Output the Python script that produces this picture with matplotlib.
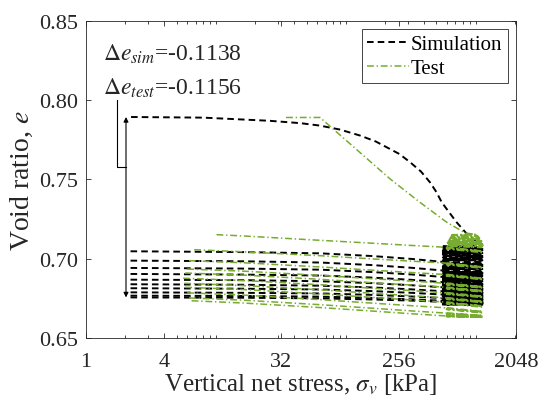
import matplotlib
matplotlib.use("Agg")
import matplotlib.pyplot as plt
from matplotlib.ticker import NullFormatter

plt.rcParams['font.family'] = ['Liberation Serif', 'DejaVu Serif']
plt.rcParams['mathtext.fontset'] = 'stix'

GREEN = '#77AC30'
DARK = '#262626'

# first loading branch, then the small cycles at the top stress
sim_main_s = [2.22, 8, 26, 45, 63, 90, 129, 170, 207, 260, 313, 380, 446, 500, 549, 630, 715, 844,
              1000, 1130, 560, 1130, 560, 1130, 560, 1130, 560, 1130, 560, 1130, 560, 1130,
              560, 1130, 560, 1130, 560, 1130, 560, 1130, 560, 1130]
sim_main_e = [0.7894, 0.7890, 0.7870, 0.7855, 0.7840, 0.7815, 0.7777, 0.7740, 0.7703, 0.7660,
              0.7609, 0.7550, 0.7482, 0.7420, 0.7356, 0.7290, 0.7230, 0.7163, 0.7115, 0.7085,
              0.7080, 0.7071, 0.7071, 0.7062, 0.7062, 0.7053, 0.7053, 0.7044, 0.7044, 0.7035,
              0.7035, 0.7026, 0.7026, 0.7017, 0.7017, 0.7008, 0.7008, 0.6999, 0.6999, 0.6990,
              0.6990, 0.6982]
test_main_s = [34.7, 63.4, 220, 373, 600, 844, 1000, 660, 1040, 650, 1070, 640, 1090, 630, 1110,
               620, 1130, 610, 1130, 600, 1130, 600, 1130]
test_main_e = [0.7891, 0.7891, 0.7503, 0.7356, 0.7230, 0.7160, 0.7152, 0.7150, 0.7142, 0.7140,
               0.7132, 0.7130, 0.7122, 0.7120, 0.7112, 0.7110, 0.7102, 0.7100, 0.7092, 0.7090,
               0.7082, 0.7080, 0.7072]

# unload / reload cycles, low stress part
sim_cycle_s = [2.2, 16, 64, 160, 320, 560]
sim_cycle_e = [
    [0.7047, 0.7042, 0.7034, 0.7017, 0.6999, 0.6980],
    [0.6988, 0.6984, 0.6976, 0.6960, 0.6943, 0.6926],
    [0.6942, 0.6938, 0.6931, 0.6916, 0.6901, 0.6885],
    [0.6904, 0.6900, 0.6894, 0.6881, 0.6867, 0.6852],
    [0.6868, 0.6865, 0.6858, 0.6846, 0.6833, 0.6820],
    [0.6839, 0.6836, 0.6830, 0.6819, 0.6807, 0.6795],
    [0.6814, 0.6811, 0.6806, 0.6796, 0.6785, 0.6774],
    [0.6788, 0.6785, 0.6781, 0.6772, 0.6762, 0.6752],
    [0.6767, 0.6765, 0.6761, 0.6753, 0.6744, 0.6735],
    [0.6756, 0.6754, 0.6750, 0.6743, 0.6736, 0.6728],
]
test_cycle_s0 = [10.1, 6.8, 6.2, 6.0, 5.8, 5.6, 5.7, 5.8, 6.0, 6.2, 6.5]
test_cycle_s = [16, 64, 160, 320, 600]
test_cycle_e = [
    [0.7152, 0.7144, 0.7116, 0.7098, 0.7084, 0.7072],
    [0.7057, 0.7044, 0.7019, 0.6999, 0.6985, 0.6972],
    [0.6988, 0.6975, 0.6948, 0.6928, 0.6913, 0.6900],
    [0.6935, 0.6922, 0.6895, 0.6874, 0.6859, 0.6845],
    [0.6910, 0.6897, 0.6870, 0.6849, 0.6834, 0.6820],
    [0.6877, 0.6863, 0.6836, 0.6814, 0.6799, 0.6785],
    [0.6845, 0.6831, 0.6804, 0.6782, 0.6767, 0.6753],
    [0.6820, 0.6806, 0.6778, 0.6756, 0.6740, 0.6726],
    [0.6785, 0.6771, 0.6742, 0.6720, 0.6704, 0.6690],
    [0.6753, 0.6739, 0.6710, 0.6688, 0.6671, 0.6657],
    [0.6735, 0.6721, 0.6692, 0.6670, 0.6653, 0.6639],
]

# small cycles at high stress after each reload
sim_block_s = [560, 1130, 560, 1130, 560, 1130, 560, 1130, 560, 1130, 560, 1130]
sim_block_e = [
    [0.6980, 0.6971, 0.6971, 0.6962, 0.6962, 0.6953, 0.6953, 0.6944, 0.6944, 0.6935, 0.6935, 0.6926],
    [0.6926, 0.6919, 0.6919, 0.6912, 0.6912, 0.6906, 0.6906, 0.6899, 0.6899, 0.6892, 0.6892, 0.6885],
    [0.6885, 0.6879, 0.6879, 0.6874, 0.6874, 0.6868, 0.6868, 0.6863, 0.6863, 0.6857, 0.6857, 0.6852],
    [0.6852, 0.6847, 0.6847, 0.6841, 0.6841, 0.6836, 0.6836, 0.6831, 0.6831, 0.6825, 0.6825, 0.6820],
    [0.6820, 0.6816, 0.6816, 0.6812, 0.6812, 0.6808, 0.6808, 0.6803, 0.6803, 0.6799, 0.6799, 0.6795],
    [0.6795, 0.6791, 0.6791, 0.6788, 0.6788, 0.6784, 0.6784, 0.6781, 0.6781, 0.6777, 0.6777, 0.6774],
    [0.6774, 0.6770, 0.6770, 0.6767, 0.6767, 0.6763, 0.6763, 0.6759, 0.6759, 0.6756, 0.6756, 0.6752],
    [0.6752, 0.6749, 0.6749, 0.6746, 0.6746, 0.6744, 0.6744, 0.6741, 0.6741, 0.6738, 0.6738, 0.6735],
    [0.6735, 0.6732, 0.6732, 0.6729, 0.6729, 0.6725, 0.6725, 0.6722, 0.6722, 0.6719, 0.6719, 0.6716],
    [0.6728, 0.6725, 0.6725, 0.6721, 0.6721, 0.6718, 0.6718, 0.6715, 0.6715, 0.6711, 0.6711, 0.6708],
]
test_block_s = [600, 1130, 600, 1130]
test_block_e = [
    [0.7072, 0.7047, 0.7064, 0.7040],
    [0.6972, 0.6947, 0.6964, 0.6942],
    [0.6900, 0.6875, 0.6892, 0.6870],
    [0.6845, 0.6822, 0.6838, 0.6817],
    [0.6820, 0.6797, 0.6813, 0.6792],
    [0.6785, 0.6762, 0.6778, 0.6757],
    [0.6753, 0.6730, 0.6746, 0.6725],
    [0.6726, 0.6701, 0.6718, 0.6696],
    [0.6690, 0.6665, 0.6682, 0.6660],
    [0.6657, 0.6640, 0.6652, 0.6636],
    [0.6639, 0.6633, 0.6637, 0.6632],
]

delta_sim = -0.1138
delta_test = -0.1156

x_major = [1, 4, 32, 256, 2048]
x_minor = [2, 3, 5, 6, 7, 8, 9, 10, 20, 30, 40, 50, 60, 70, 80, 90,
           100, 200, 300, 400, 500, 600, 700, 800, 900, 1000, 2000]
y_major = [0.65, 0.70, 0.75, 0.80, 0.85]

sim_style = dict(color='black', lw=1.4, dashes=(3.4, 2.1))
test_style = dict(color=GREEN, lw=1.1, dashes=(4.5, 1.8, 0.9, 1.8))
test_block_style = dict(color=GREEN, lw=1.5, dashes=(3.3, 1.3, 0.7, 1.3))

fig = plt.figure(figsize=(5.38, 4.06), dpi=100)
ax = fig.add_axes([0.160, 0.165, 0.799, 0.781])

ax.plot(sim_main_s, sim_main_e, label='Simulation', **sim_style)
for e_low, e_blk in zip(sim_cycle_e, sim_block_e):
    ax.plot(sim_cycle_s, e_low, **sim_style)
    ax.plot(sim_block_s, e_blk, **sim_style)

ax.plot(test_main_s[:6], test_main_e[:6], label='Test', **test_style)
ax.plot(test_main_s[5:], test_main_e[5:], **test_block_style)
for s0, e_low, e_blk in zip(test_cycle_s0, test_cycle_e, test_block_e):
    ax.plot([s0] + test_cycle_s, e_low, **test_style)
    ax.plot(test_block_s, e_blk, **test_block_style)

# change of void ratio over the whole test
e0 = sim_main_e[0]
ax.annotate('', xy=(2.03, e0 + delta_sim), xytext=(2.03, e0),
            arrowprops=dict(arrowstyle='<|-|>', color='black', lw=0.8,
                            mutation_scale=7, shrinkA=0, shrinkB=0))
ax.plot([1.73, 1.73, 2.03], [0.8002, 0.7579, 0.7579], color='black', lw=0.8)
ax.text(1.35, 0.8254, r'$\Delta e_{sim}$=%.4f' % delta_sim, fontsize=17, color=DARK)
ax.text(1.35, 0.8040, r'$\Delta e_{test}$=%.4f' % delta_test, fontsize=17, color=DARK)

ax.set_xscale('log', base=2)
ax.set_xlim(1, 2048)
ax.set_ylim(0.65, 0.85)
ax.set_xticks(x_major)
ax.set_xticklabels([str(v) for v in x_major])
ax.set_xticks(x_minor, minor=True)
ax.xaxis.set_minor_formatter(NullFormatter())
ax.set_yticks(y_major)
ax.set_yticklabels(['%.2f' % v for v in y_major])
ax.tick_params(which='both', direction='in', top=True, right=True,
               labelsize=16, colors=DARK, width=0.6)
ax.tick_params(which='major', length=3.5)
ax.tick_params(which='minor', length=2)
ax.tick_params(axis='x', which='major', pad=10)
ax.tick_params(axis='y', which='major', pad=6)
for sp in ax.spines.values():
    sp.set_color(DARK)
    sp.set_linewidth(0.6)

ax.set_xlabel(r'Vertical net stress, $\sigma_v$ [kPa]', fontsize=18, color=DARK, labelpad=0)
ax.set_ylabel(r'Void ratio, $e$', fontsize=20, color=DARK, labelpad=3)

leg = ax.legend(loc='upper right', fontsize=15, handlelength=2.0, borderpad=0.25,
                labelspacing=0.2, handletextpad=0.1, fancybox=False,
                framealpha=1, borderaxespad=0.4)
leg.get_frame().set_edgecolor(DARK)
leg.get_frame().set_linewidth(0.6)

fig.savefig('out.png', dpi=100)
